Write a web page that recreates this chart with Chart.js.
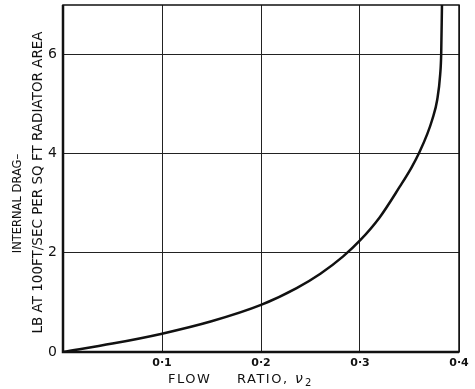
<!DOCTYPE html>
<html lang="en">
<head>
    <meta charset="UTF-8">
    <title>Internal drag vs flow ratio</title>
    <script src="https://cdn.jsdelivr.net/npm/chart.js"></script>
    <style>
        html, body { margin: 0; padding: 0; background: #ffffff; }
        #wrap { width: 475px; height: 389px; position: relative; }
    </style>
</head>
<body>
    <div id="wrap"><canvas id="dragChart" width="475" height="389"></canvas></div>

    <script>
        // values
        const flowRatio = [0, 0.05, 0.1, 0.15, 0.2, 0.236, 0.26, 0.283, 0.3, 0.32, 0.34, 0.352, 0.36, 0.368, 0.373, 0.378, 0.381, 0.382, 0.3828];
        const internalDrag = [0, 0.17, 0.37, 0.62, 0.95, 1.29, 1.58, 1.93, 2.25, 2.72, 3.33, 3.72, 4.03, 4.4, 4.69, 5.09, 5.6, 6.0, 7.0];

        const xTickValues = [0, 0.1, 0.2, 0.3, 0.4];
        const xTickLabels = ['', '0·1', '0·2', '0·3', '0·4'];
        const yTickValues = [0, 2, 4, 6];
        const yTickLabels = ['0', '2', '4', '6'];

        const yTitleLines = ['INTERNAL DRAG–', 'LB AT 100FT/SEC PER SQ FT RADIATOR AREA'];
        const xTitle = ['FLOW', 'RATIO,', 'ν', '2'];

        const ink = '#111111';

        // outer frame of the plot
        const framePlugin = {
            id: 'frame',
            afterDatasetsDraw(chart) {
                const a = chart.chartArea;
                const ctx = chart.ctx;
                ctx.save();
                ctx.strokeStyle = ink;
                ctx.lineWidth = 1.5;
                ctx.strokeRect(a.left, a.top, a.right - a.left, a.bottom - a.top);
                ctx.lineWidth = 2.5;
                ctx.beginPath();
                ctx.moveTo(a.left, a.top);
                ctx.lineTo(a.left, a.bottom);
                ctx.lineTo(a.right, a.bottom);
                ctx.stroke();
                ctx.restore();
            }
        };

        // axis titles, drawn as text so the two y lines can differ a little
        const titlePlugin = {
            id: 'axisTitles',
            afterDraw(chart) {
                const ctx = chart.ctx;
                const a = chart.chartArea;
                const midY = (a.top + a.bottom) / 2;
                ctx.save();
                ctx.fillStyle = ink;
                ctx.textAlign = 'center';
                ctx.textBaseline = 'middle';

                // y title, two rotated lines
                ctx.save();
                ctx.translate(18, midY + 25);
                ctx.rotate(-Math.PI / 2);
                ctx.font = '11.5px "DejaVu Sans"';
                ctx.fillText(yTitleLines[0], 0, 0);
                ctx.restore();

                ctx.save();
                ctx.translate(38, midY + 4);
                ctx.rotate(-Math.PI / 2);
                ctx.font = '13.5px "DejaVu Sans"';
                ctx.fillText(yTitleLines[1], 0, 0);
                ctx.restore();

                // x title
                ctx.textAlign = 'left';
                ctx.font = '13px "DejaVu Sans"';
                if ('letterSpacing' in ctx) ctx.letterSpacing = '1.5px';
                const y = 380;
                ctx.fillText(xTitle[0], 168, y);
                ctx.fillText(xTitle[1], 237, y);
                ctx.font = 'italic 14px "DejaVu Sans"';
                ctx.fillText(xTitle[2], 295, y - 1);
                ctx.font = '10px "DejaVu Sans"';
                ctx.fillText(xTitle[3], 305, y + 3);
                ctx.restore();
            }
        };

        new Chart(document.getElementById('dragChart'), {
            type: 'scatter',
            data: {
                datasets: [{
                    data: flowRatio.map((x, i) => ({ x: x, y: internalDrag[i] })),
                    showLine: true,
                    borderColor: ink,
                    borderWidth: 2.5,
                    pointRadius: 0,
                    cubicInterpolationMode: 'monotone'
                }]
            },
            options: {
                responsive: false,
                animation: false,
                layout: { padding: { top: 5, right: 16, left: 0, bottom: 0 } },
                plugins: {
                    legend: { display: false },
                    tooltip: { enabled: false }
                },
                scales: {
                    x: {
                        type: 'linear',
                        min: 0,
                        max: 0.4,
                        afterBuildTicks: (scale) => { scale.ticks = xTickValues.map(v => ({ value: v })); },
                        afterFit: (scale) => { scale.height = 37; scale.paddingLeft = 0; },
                        grid: { color: '#222222', lineWidth: 1, drawTicks: false },
                        border: { display: false },
                        ticks: {
                            padding: 5,
                            color: ink,
                            maxRotation: 0,
                            font: { family: 'DejaVu Sans', size: 11, weight: 'bold' },
                            callback: (v, i) => xTickLabels[i]
                        }
                    },
                    y: {
                        min: 0,
                        max: 7,
                        afterBuildTicks: (scale) => { scale.ticks = yTickValues.map(v => ({ value: v })); },
                        afterFit: (scale) => { scale.width = 63; scale.paddingTop = 0; scale.paddingBottom = 0; },
                        grid: { color: '#222222', lineWidth: 1, drawTicks: false },
                        border: { display: false },
                        ticks: {
                            padding: 6,
                            color: ink,
                            font: { family: 'DejaVu Sans', size: 14 },
                            callback: (v, i) => yTickLabels[i]
                        }
                    }
                }
            },
            plugins: [framePlugin, titlePlugin]
        });
    </script>
</body>
</html>
